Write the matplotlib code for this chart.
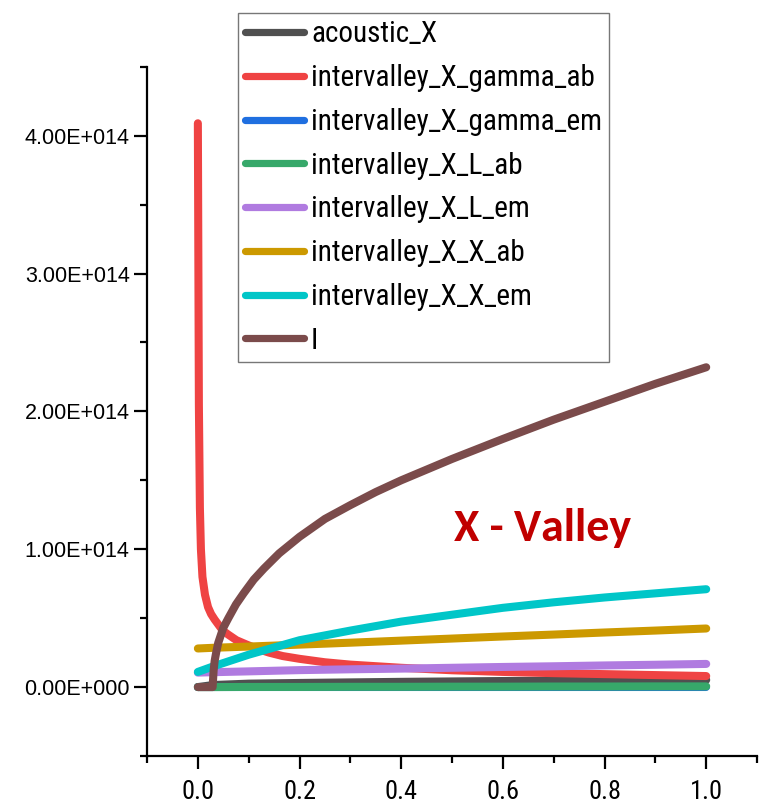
import matplotlib
matplotlib.use("Agg")
import matplotlib.pyplot as plt
from matplotlib import font_manager
from matplotlib.ticker import FuncFormatter, MultipleLocator

# values, y in units of 1e14
series_names = ["acoustic_X", "intervalley_X_gamma_ab", "intervalley_X_gamma_em",
                "intervalley_X_L_ab", "intervalley_X_L_em", "intervalley_X_X_ab",
                "intervalley_X_X_em", "I"]
series_colors = ["#505050", "#ef4343", "#1f6fe0", "#37a86a", "#b07be0",
                 "#cc9900", "#00c6c8", "#7b4b4b"]

lin_x = [0.0, 0.03, 0.1, 0.2, 0.3, 0.4, 0.5, 0.6, 0.7, 0.8, 0.9, 1.0]
acoustic_y = [0.0, 0.015, 0.025, 0.03, 0.034, 0.038, 0.041, 0.044, 0.046, 0.048, 0.05, 0.052]
gamma_em_y = [0.0, 0.0, 0.0, 0.0, 0.0, 0.0, 0.0, 0.0, 0.0, 0.0, 0.0, 0.0]
L_ab_y = [0.0, 0.0, 0.001, 0.001, 0.002, 0.002, 0.003, 0.003, 0.004, 0.004, 0.005, 0.005]
L_em_y = [0.105, 0.108, 0.114, 0.123, 0.129, 0.134, 0.140, 0.146, 0.151, 0.157, 0.162, 0.168]
X_ab_y = [0.28, 0.285, 0.294, 0.308, 0.322, 0.337, 0.352, 0.367, 0.381, 0.396, 0.41, 0.425]
X_em_y = [0.11, 0.15, 0.235, 0.34, 0.41, 0.475, 0.525, 0.575, 0.615, 0.65, 0.68, 0.71]

red_x = [0.0, 0.002, 0.004, 0.006, 0.009, 0.014, 0.02, 0.026, 0.033, 0.041, 0.049, 0.06,
         0.076, 0.095, 0.115, 0.14, 0.167, 0.2, 0.25, 0.3, 0.4, 0.5, 0.6, 0.7, 0.8, 0.9, 1.0]
gamma_ab_y = [4.09, 2.05, 1.3, 1.0, 0.8, 0.67, 0.58, 0.53, 0.49, 0.45, 0.41, 0.38,
              0.34, 0.31, 0.28, 0.25, 0.225, 0.205, 0.18, 0.163, 0.14, 0.122, 0.11,
              0.101, 0.094, 0.087, 0.08]

brown_x = [0.0, 0.029, 0.031, 0.033, 0.036, 0.04, 0.05, 0.06, 0.075, 0.09, 0.11, 0.13,
           0.16, 0.2, 0.25, 0.3, 0.35, 0.4, 0.5, 0.6, 0.7, 0.8, 0.9, 1.0]
I_y = [0.0, 0.0, 0.12, 0.19, 0.25, 0.32, 0.43, 0.5, 0.6, 0.68, 0.78, 0.86,
       0.97, 1.09, 1.22, 1.32, 1.415, 1.5, 1.655, 1.8, 1.94, 2.07, 2.2, 2.32]

xs = [lin_x, red_x, lin_x, lin_x, lin_x, lin_x, lin_x, brown_x]
ys = [acoustic_y, gamma_ab_y, gamma_em_y, L_ab_y, L_em_y, X_ab_y, X_em_y, I_y]

installed = {f.name for f in font_manager.fontManager.ttflist}


def pick(cands):
    for c in cands:
        if c in installed:
            return c
    return "Liberation Sans"


narrow = pick(["Liberation Sans Narrow", "Arial Narrow", "Roboto Condensed",
               "PT Sans Narrow", "Archivo Narrow"])
calib = pick(["Carlito", "Calibri", "Liberation Sans"])
plt.rcParams["font.family"] = ["Liberation Sans", "DejaVu Sans"]

fig = plt.figure(figsize=(7.63, 8.09), dpi=100)
ax = fig.add_axes([0.1927, 0.0655, 0.7995, 0.852])

lines = []
for x, y, name, c in zip(xs, ys, series_names, series_colors):
    ln, = ax.plot(x, [v * 1e14 for v in y], color=c, lw=5.8, label=name,
                  solid_capstyle="round", solid_joinstyle="round")
    lines.append(ln)

ax.set_xlim(-0.1, 1.1)
ax.set_ylim(-0.5e14, 4.5e14)
ax.xaxis.set_major_locator(MultipleLocator(0.2))
ax.xaxis.set_minor_locator(MultipleLocator(0.1))
ax.yaxis.set_major_locator(MultipleLocator(1e14))
ax.yaxis.set_minor_locator(MultipleLocator(0.5e14))


def sci(v, pos):
    if v == 0:
        return "0.00E+000"
    exp = 0
    m = abs(v)
    while m >= 10:
        m /= 10
        exp += 1
    while m < 1:
        m *= 10
        exp -= 1
    sign = "-" if v < 0 else ""
    return f"{sign}{m:.2f}E{'+' if exp >= 0 else '-'}{abs(exp):03d}"


ax.yaxis.set_major_formatter(FuncFormatter(sci))

for s in ["top", "right"]:
    ax.spines[s].set_visible(False)
for s in ["left", "bottom"]:
    ax.spines[s].set_linewidth(1.6)

ax.tick_params(which="major", length=9.5, width=1.6, direction="out")
ax.tick_params(which="minor", length=5, width=1.6, direction="out")
ax.tick_params(axis="y", labelsize=15.5, pad=3)
ax.tick_params(axis="x", pad=8)
for lab in ax.get_xticklabels():
    lab.set_fontfamily([narrow, "Liberation Sans"])
    lab.set_fontsize(19)

ax.text(0.679, 1.157e14, "X - Valley", color="#c00000", fontsize=33,
        fontweight="bold", family=[calib, "Liberation Sans"], ha="center", va="center")

leg = fig.legend(handles=lines, loc="upper left",
                 bbox_to_anchor=(238 / 763, 1 - 13 / 809),
                 prop={"family": [narrow, "Liberation Sans"], "size": 21},
                 frameon=True, fancybox=False, borderpad=0.25,
                 labelspacing=0.54, handlelength=2.0, handletextpad=0.25,
                 borderaxespad=0.0)
leg.get_frame().set_edgecolor("#555555")
leg.get_frame().set_linewidth(1.0)
for h in leg.get_lines():
    h.set_linewidth(5.2)

fig.savefig("out.png", dpi=100)
